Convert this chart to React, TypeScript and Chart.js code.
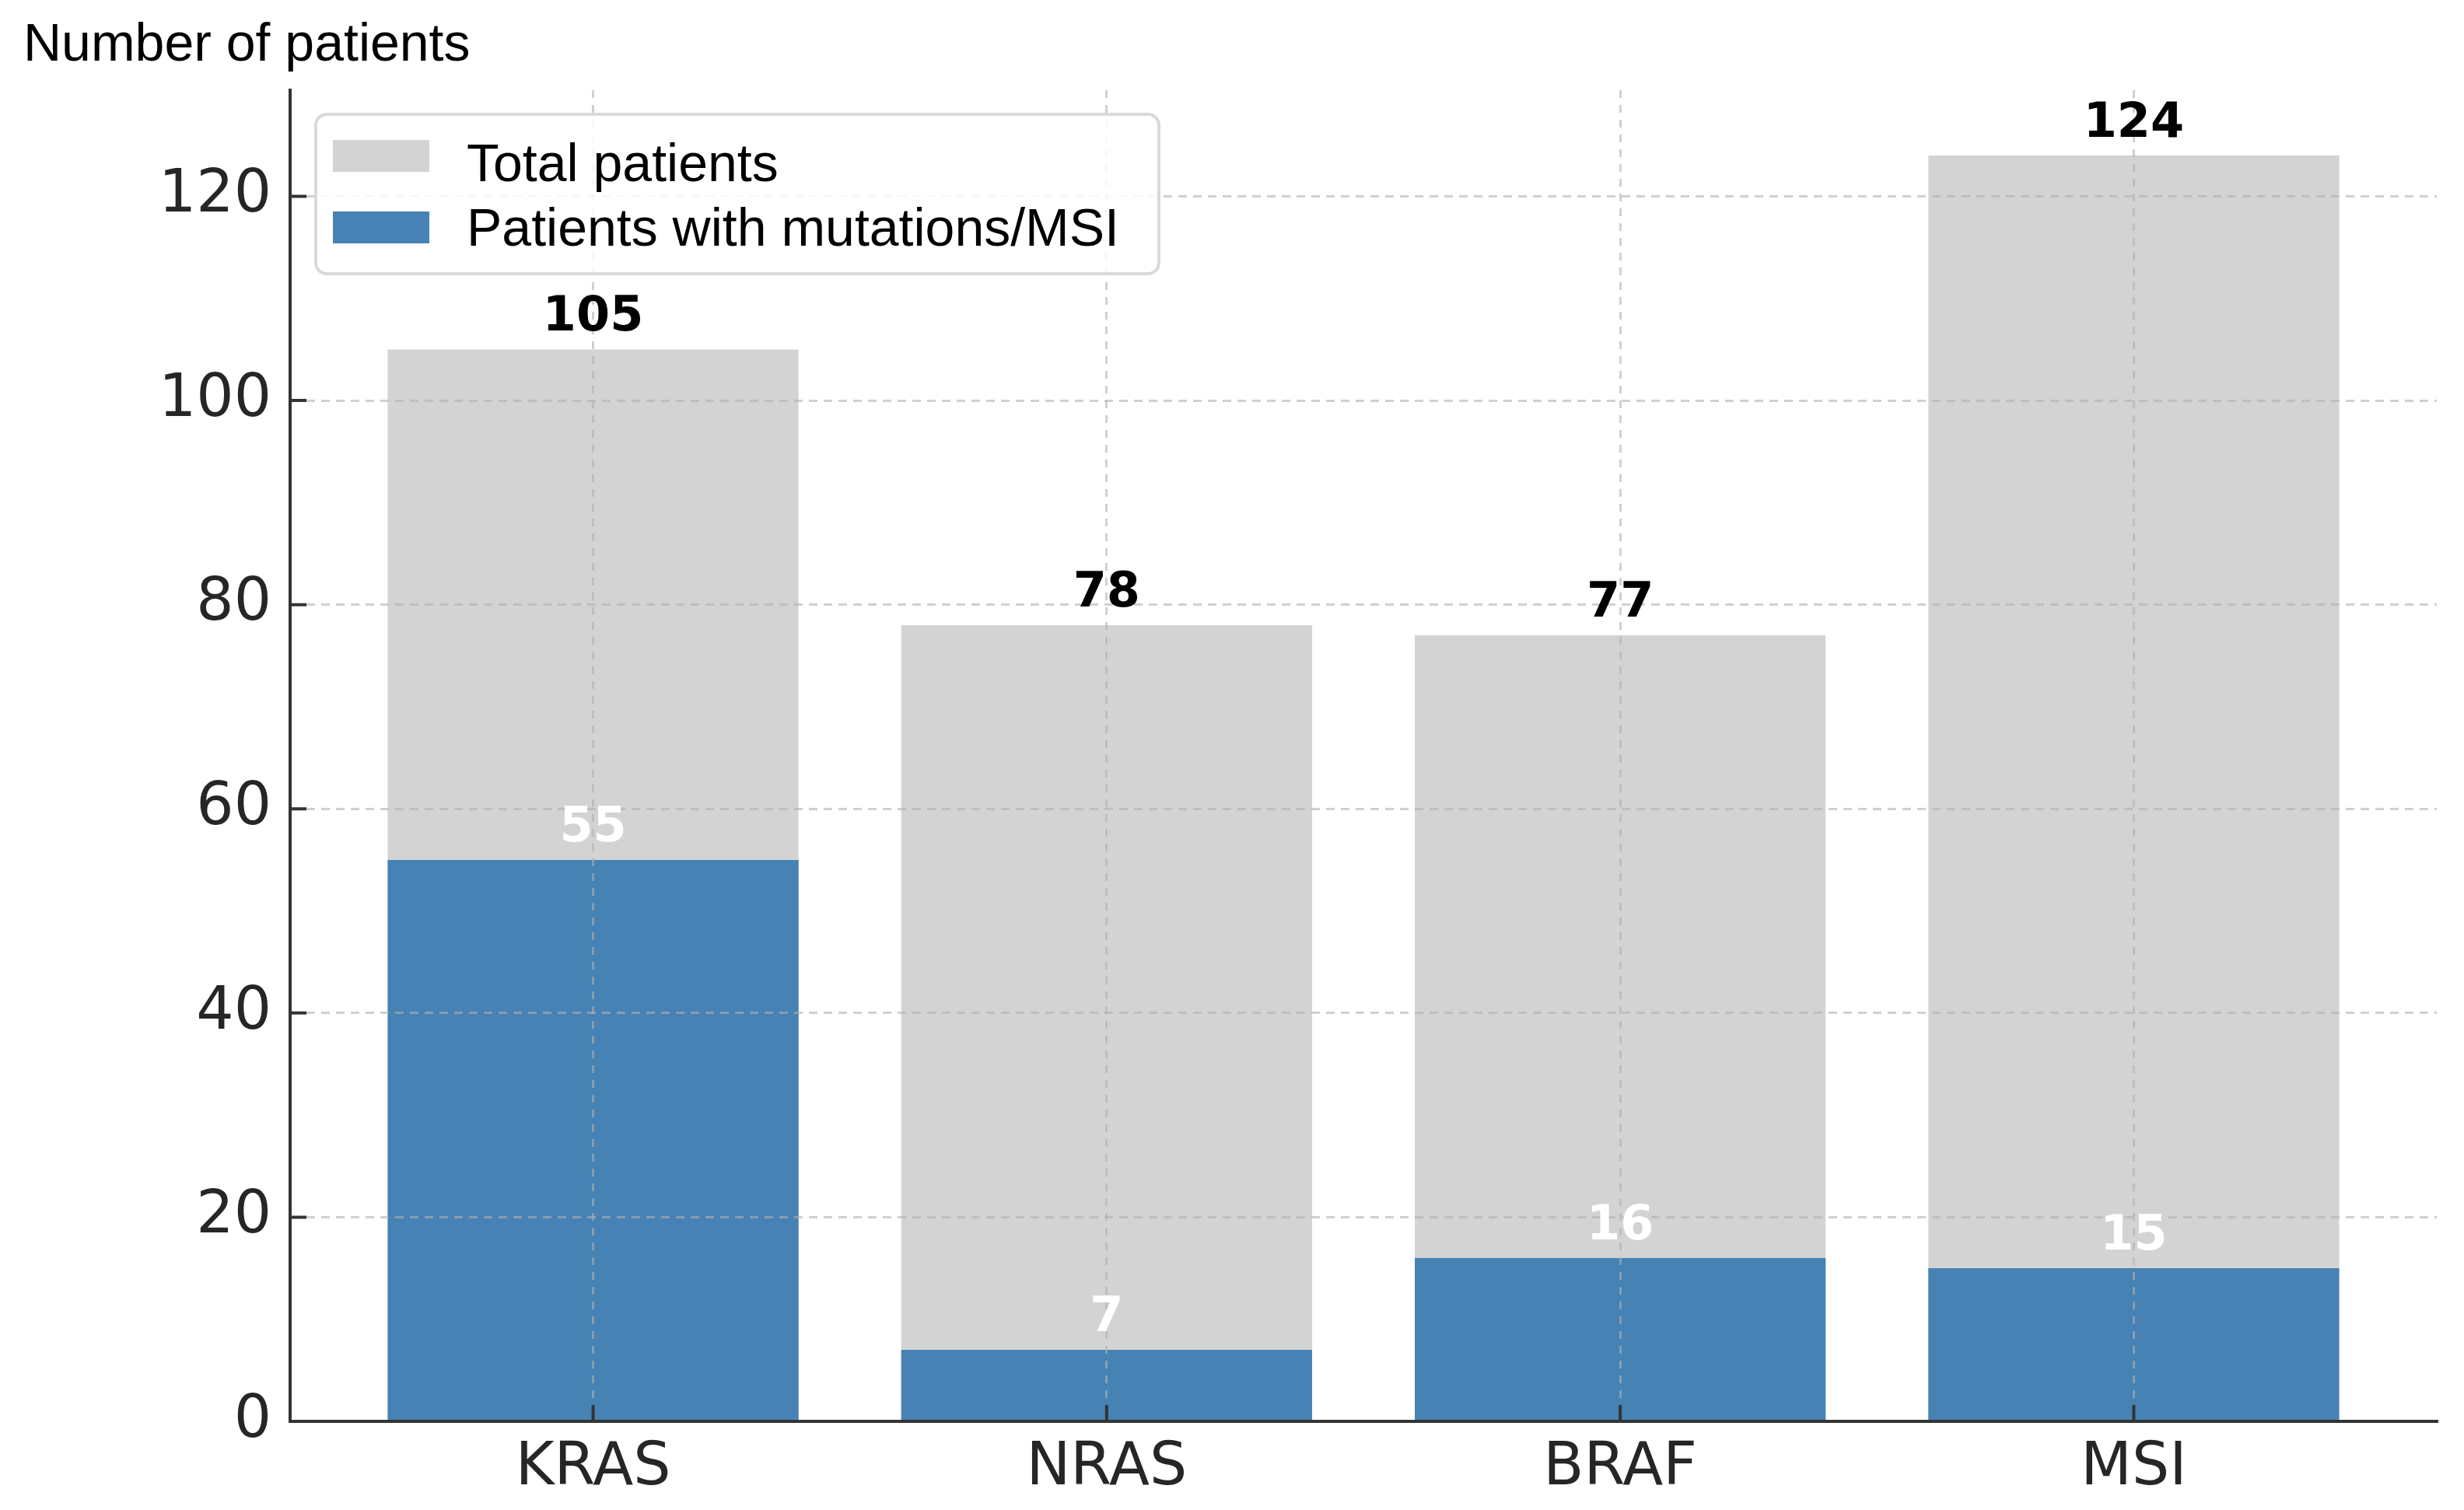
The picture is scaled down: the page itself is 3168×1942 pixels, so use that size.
import React, { useEffect, useRef } from 'react';
import { Chart, registerables } from 'chart.js';

Chart.register(...registerables);

// ---- data ----
const categories = ['KRAS', 'NRAS', 'BRAF', 'MSI'];
const totalPatients = [105, 78, 77, 124];
const mutatedPatients = [55, 7, 16, 15];
const yTickValues = [0, 20, 40, 60, 80, 100, 120];
const seriesLabels = ['Total patients', 'Patients with mutations/MSI'];
const yAxisTitle = 'Number of patients';

const W = 3168;
const H = 1942;
const GRAY = '#d3d3d3';
const BLUE = '#4682b4';
const GRID = 'rgba(176,176,176,0.6)';
const AXIS = '#333333';
const SANS = '"Liberation Sans", Arial, sans-serif';
const DEJAVU = '"DejaVu Sans", sans-serif';

const overlayPlugin = {
  id: 'overlay',
  afterDraw(chart: any) {
    const ctx = chart.ctx as CanvasRenderingContext2D;
    const { left, top, bottom } = chart.chartArea;
    const xs = chart.scales.x;
    const ys = chart.scales.y;
    ctx.save();

    // inward tick marks
    ctx.strokeStyle = AXIS;
    ctx.lineWidth = 4;
    ctx.beginPath();
    ys.ticks.forEach((t: any) => {
      const py = ys.getPixelForValue(t.value);
      ctx.moveTo(left, py);
      ctx.lineTo(left + 21, py);
    });
    xs.ticks.forEach((t: any) => {
      const px = xs.getPixelForValue(t.value);
      ctx.moveTo(px, bottom);
      ctx.lineTo(px, bottom - 21);
    });
    ctx.stroke();

    // value labels
    ctx.font = `bold 62px ${DEJAVU}`;
    ctx.textAlign = 'center';
    ctx.textBaseline = 'alphabetic';
    chart.data.datasets.forEach((ds: any, di: number) => {
      const meta = chart.getDatasetMeta(di);
      ctx.fillStyle = di === 0 ? '#000000' : '#ffffff';
      meta.data.forEach((el: any, i: number) => {
        ctx.fillText(String(ds.data[i].y), el.x, el.y - 24);
      });
    });

    // legend box
    ctx.font = `68px ${SANS}`;
    const fl = left + 33;
    const ft = top + 31;
    const textX = fl + 194;
    let maxW = 0;
    chart.data.datasets.forEach((ds: any) => {
      maxW = Math.max(maxW, ctx.measureText(ds.label).width);
    });
    const fw = textX + maxW + 51 - fl;
    const fh = 205;
    ctx.beginPath();
    (ctx as any).roundRect(fl, ft, fw, fh, 14);
    ctx.fillStyle = 'rgba(255,255,255,0.85)';
    ctx.fill();
    ctx.lineWidth = 4;
    ctx.strokeStyle = '#d9d9d9';
    ctx.stroke();
    const swTop = [33, 125];
    const txtBase = [86, 169];
    chart.data.datasets.forEach((ds: any, di: number) => {
      ctx.fillStyle = ds.backgroundColor;
      ctx.fillRect(fl + 22, ft + swTop[di], 124, 41);
      ctx.fillStyle = '#000000';
      ctx.textAlign = 'left';
      ctx.fillText(ds.label, textX, ft + txtBase[di]);
    });

    // axis title (horizontal, top-left)
    ctx.font = `68px ${SANS}`;
    ctx.fillStyle = '#000000';
    ctx.textAlign = 'left';
    ctx.textBaseline = 'alphabetic';
    ctx.fillText(yAxisTitle, 30, 78);

    ctx.restore();
  },
};

export default function App() {
  const canvasRef = useRef<HTMLCanvasElement | null>(null);

  useEffect(() => {
    if (!canvasRef.current) return;
    const chart = new Chart(canvasRef.current, {
      type: 'bar',
      data: {
        datasets: [
          {
            label: seriesLabels[0],
            data: totalPatients.map((v, i) => ({ x: i, y: v })),
            backgroundColor: GRAY,
            borderWidth: 0,
            grouped: false,
            barPercentage: 0.8,
            categoryPercentage: 1,
            order: 2,
          } as any,
          {
            label: seriesLabels[1],
            data: mutatedPatients.map((v, i) => ({ x: i, y: v })),
            backgroundColor: BLUE,
            borderWidth: 0,
            grouped: false,
            barPercentage: 0.8,
            categoryPercentage: 1,
            order: 1,
          } as any,
        ],
      },
      options: {
        animation: false,
        responsive: true,
        maintainAspectRatio: false,
        events: [],
        layout: { padding: { top: 116, right: 35, left: 0, bottom: 0 } },
        plugins: {
          legend: { display: false },
          tooltip: { enabled: false },
        },
        scales: {
          x: {
            type: 'linear',
            offset: false,
            min: -0.59,
            max: 3.59,
            afterBuildTicks: (scale: any) => {
              scale.ticks = categories.map((_, i) => ({ value: i }));
            },
            afterFit: (scale: any) => {
              scale.height = H - 1828;
            },
            ticks: {
              callback: (v: any) => categories[Math.round(Number(v))],
              font: { family: DEJAVU, size: 76, lineHeight: 1 },
              color: '#262626',
              padding: 23,
              autoSkip: false,
              maxRotation: 0,
            },
            grid: { offset: false, color: GRID, lineWidth: 3, drawTicks: false, z: 1 },
            border: { display: true, color: AXIS, width: 4, dash: [10, 9], z: 2 },
          },
          y: {
            type: 'linear',
            min: 0,
            max: 130.4,
            afterBuildTicks: (scale: any) => {
              scale.ticks = yTickValues.map((v) => ({ value: v }));
            },
            afterFit: (scale: any) => {
              scale.width = 373;
            },
            ticks: {
              font: { family: DEJAVU, size: 76, lineHeight: 1 },
              color: '#262626',
              padding: 24,
            },
            grid: { color: GRID, lineWidth: 3, drawTicks: false, z: 1 },
            border: { display: true, color: AXIS, width: 4, dash: [11, 8], z: 2 },
          },
        },
      } as any,
      plugins: [overlayPlugin],
    });
    return () => chart.destroy();
  }, []);

  return (
    <div
      style={{
        position: 'absolute',
        left: 0,
        top: 0,
        width: W,
        height: H,
        background: '#ffffff',
      }}
    >
      <canvas ref={canvasRef} />
    </div>
  );
}
